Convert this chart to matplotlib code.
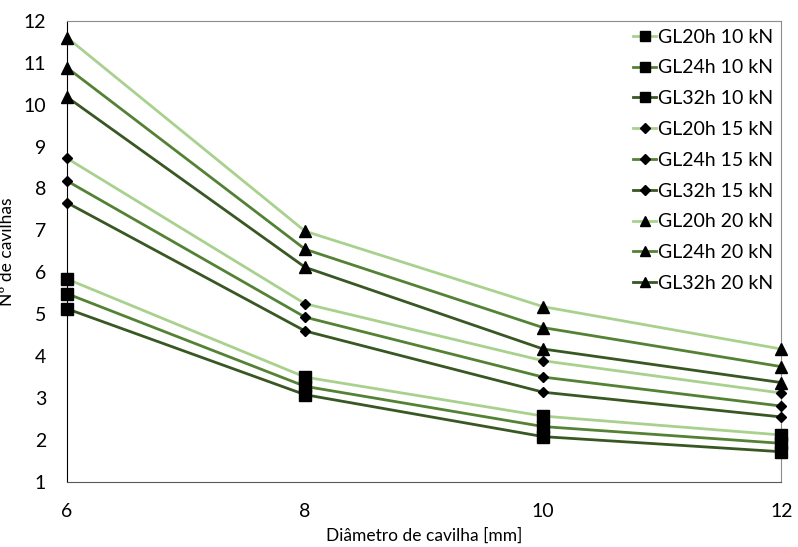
import matplotlib
matplotlib.use("Agg")
import matplotlib.pyplot as plt

plt.rcParams['font.family'] = ['Lato', 'DejaVu Sans']

# diâmetro da cavilha [mm]
diametros = [6, 8, 10, 12]

# nº de cavilhas
gl20h_10 = [5.84, 3.50, 2.57, 2.12]
gl24h_10 = [5.49, 3.28, 2.32, 1.92]
gl32h_10 = [5.13, 3.08, 2.08, 1.72]
gl20h_15 = [8.72, 5.25, 3.89, 3.12]
gl24h_15 = [8.18, 4.93, 3.50, 2.81]
gl32h_15 = [7.66, 4.60, 3.14, 2.55]
gl20h_20 = [11.6, 6.98, 5.18, 4.17]
gl24h_20 = [10.88, 6.55, 4.68, 3.75]
gl32h_20 = [10.18, 6.12, 4.17, 3.37]

series = [
    ("GL20h 10 kN", gl20h_10), ("GL24h 10 kN", gl24h_10), ("GL32h 10 kN", gl32h_10),
    ("GL20h 15 kN", gl20h_15), ("GL24h 15 kN", gl24h_15), ("GL32h 15 kN", gl32h_15),
    ("GL20h 20 kN", gl20h_20), ("GL24h 20 kN", gl24h_20), ("GL32h 20 kN", gl32h_20),
]
cores = ["#a9d18e", "#548235", "#385723"]
marcadores = {"10": ("s", 8), "15": ("D", 5.5), "20": ("^", 8)}

fig = plt.figure(figsize=(7.98, 5.47), dpi=100)
ax = fig.add_axes([0.084, 0.119, 0.895, 0.843])

for i, (nome, vals) in enumerate(series):
    m, ms = marcadores[nome.split()[1]]
    ax.plot(diametros, vals, color=cores[i % 3], lw=2, marker=m, ms=ms,
            mfc="black", mec="black", label=nome, clip_on=False, zorder=3)

ax.set_xlim(6, 12)
ax.set_ylim(1, 12)
ax.set_xticks([6, 8, 10, 12])
ax.set_yticks(range(1, 13))
ax.tick_params(axis="both", length=0, labelsize=14)
ax.tick_params(axis="x", pad=15.5)
ax.tick_params(axis="y", pad=15)
ax.set_xlabel("Diâmetro de cavilha [mm]", fontsize=12.5, labelpad=5)
ax.set_ylabel("Nº de cavilhas", fontsize=12.5, labelpad=6)

ax.spines["left"].set_color("black")
ax.spines["bottom"].set_color("#595959")
for s in ("top", "right"):
    ax.spines[s].set_color("#8c8c8c")

ax.legend(loc="upper right", frameon=False, fontsize=14, handlelength=1.2,
          handletextpad=0.1, labelspacing=0.71, borderaxespad=0.0,
          markerscale=0.85, bbox_to_anchor=(1.0, 1.0))

fig.savefig("out.png", dpi=100)
